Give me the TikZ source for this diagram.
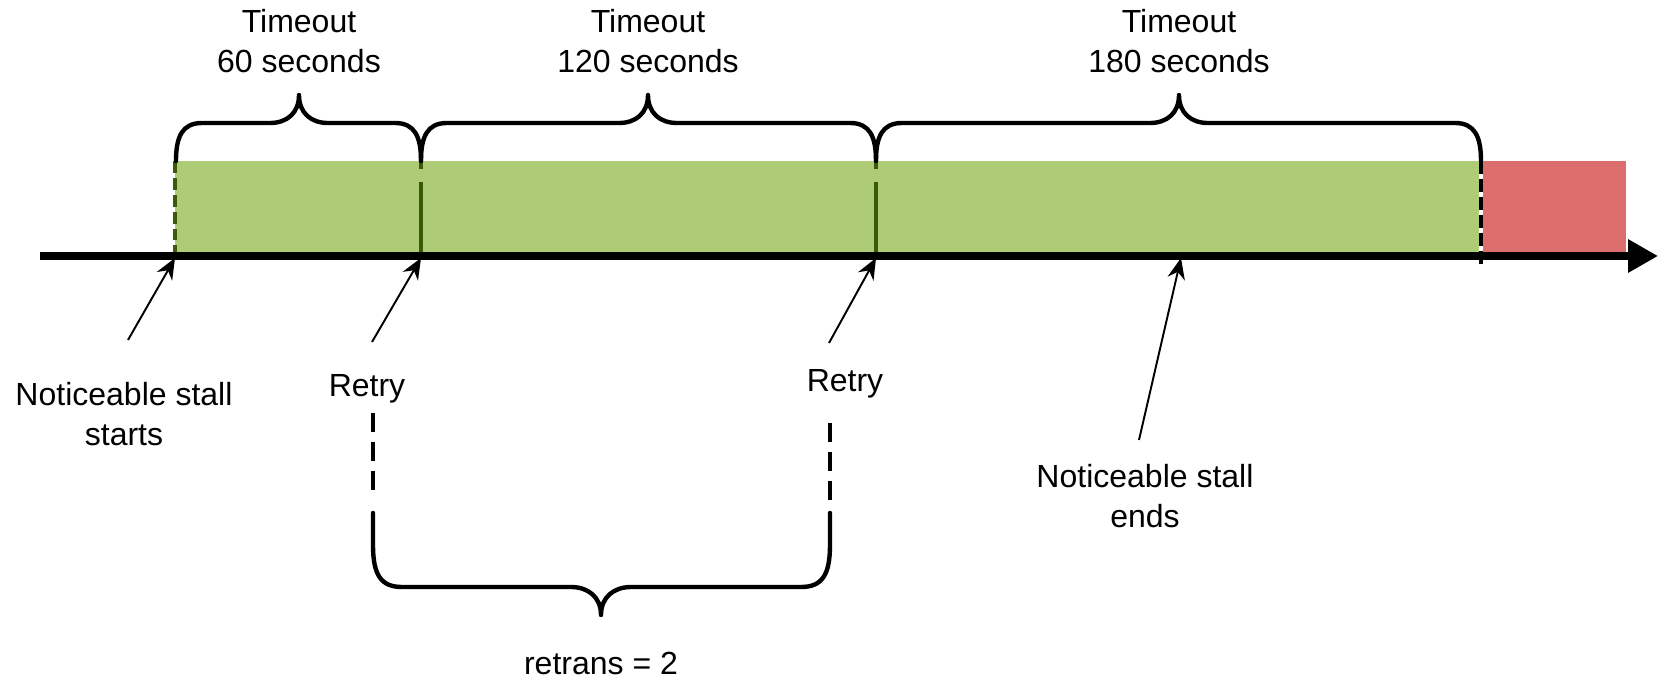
\documentclass[tikz,border=0pt]{standalone}
\usepackage{fontspec}
\setmainfont{Liberation Sans}
\usetikzlibrary{arrows.meta}

\definecolor{okgreen}{HTML}{AECB75}
\definecolor{stallred}{HTML}{DC6E6E}
\definecolor{darkolive}{HTML}{3A5A0A}

\tikzset{
  axisline/.style={line width=2pt, -{Triangle[length=8.5pt,width=9pt]}},
  bracket/.style={line width=1.25pt, line join=round, line cap=round},
  pointer/.style={line width=0.55pt, -{Stealth[length=6pt,width=5pt]}},
  lbl/.style={font=\fontsize{9.1}{11.4}\selectfont, align=center, inner sep=0pt},
  marker/.style={line width=1.1pt, darkolive},
  retrydash/.style={line width=1.2pt, dash pattern=on 5.4pt off 2.8pt},
}

% brace opening downwards onto the bar: left end, tip, right end
\newcommand{\upbrace}[3]{%
  \draw[bracket] (#1,161) .. controls (#1,137) and ({#1+6},123) .. ({#1+26},123)
    -- ({#2-29},123) .. controls ({#2-12},123) and (#2,113) .. (#2,95)
    .. controls (#2,113) and ({#2+12},123) .. ({#2+29},123)
    -- ({#3-26},123) .. controls ({#3-6},123) and (#3,137) .. (#3,161);}
% brace under the retries
\newcommand{\downbrace}[3]{%
  \draw[bracket] (#1,513) -- (#1,545) .. controls (#1,575) and ({#1+8},587) .. ({#1+29},587)
    -- ({#2-30},587) .. controls ({#2-13},587) and (#2,597) .. (#2,615)
    .. controls (#2,597) and ({#2+13},587) .. ({#2+30},587)
    -- ({#3-29},587) .. controls ({#3-8},587) and (#3,575) .. (#3,545) -- (#3,513);}

\begin{document}
\begin{tikzpicture}[x=0.01cm, y=-0.01cm]
\useasboundingbox (0,0) rectangle (1662,682);

% Drawing the bars
\fill[okgreen] (175,161) rectangle (1481,254);
\fill[stallred] (1481,161) rectangle (1626,254);

% Markers on the bar
\draw[marker, dash pattern=on 3.4pt off 1.4pt] (175,161) -- (175,254);
\draw[marker, dash pattern=on 2.3pt off 3.7pt on 100pt] (421,161) -- (421,254);
\draw[marker, dash pattern=on 2.3pt off 3.7pt on 100pt] (876,161) -- (876,254);
\draw[white, line width=1.3pt] (1481,161) -- (1481,254);
\draw[line width=1.3pt, dash pattern=on 3.7pt off 1.4pt] (1481,161) -- (1481,268);

% Time axis
\coordinate (axstart) at (40,256);
\coordinate (axend) at (1658,256);
\draw[axisline] (axstart) -- (axend);

% Timeout braces
\upbrace{176}{299}{421}
\upbrace{421}{648}{876}
\upbrace{876}{1179}{1481}

\node[lbl] (tmoA) at (299,41) {Timeout\\60 seconds};
\node[lbl] (tmoB) at (648,41) {Timeout\\120 seconds};
\node[lbl] (tmoC) at (1179,41) {Timeout\\180 seconds};

% Labels under the axis
\node[lbl] (stallstart) at (124,414) {Noticeable stall\\starts};
\node[lbl] (retryA) at (367,389) {Retry};
\node[lbl] (retryB) at (845,384) {Retry};
\node[lbl] (stallend) at (1145,496) {Noticeable stall\\ends};

% Pointers to the axis
\coordinate (t0) at (175,258);
\coordinate (t1) at (421,258);
\coordinate (t2) at (876,258);
\coordinate (t3) at (1181,258);
\coordinate (s0) at (128,340);
\coordinate (s1) at (372,342);
\coordinate (s2) at (829,343);
\coordinate (s3) at (1139,440);
\draw[pointer] (s0) -- (t0);
\draw[pointer] (s1) -- (t1);
\draw[pointer] (s2) -- (t2);
\draw[pointer] (s3) -- (t3);

% Retransmission brace
\draw[retrydash] (373,413) -- (373,490);
\draw[retrydash] (830,423) -- (830,500);
\downbrace{373}{601}{830}
\node[lbl] (retrans) at (601,663) {retrans = 2};

\end{tikzpicture}
\end{document}
